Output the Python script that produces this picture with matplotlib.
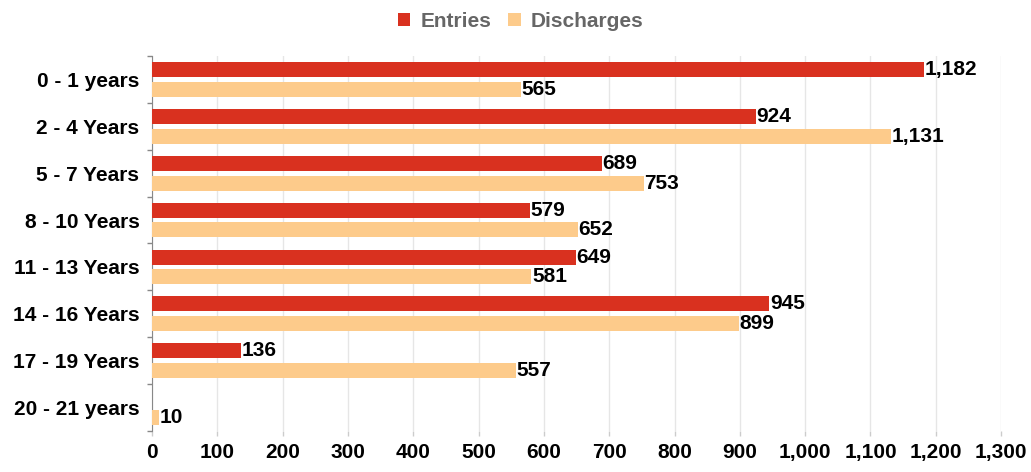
import numpy as np
import matplotlib.pyplot as plt
from matplotlib.ticker import FuncFormatter

# data
categories = ["0 - 1 years", "2 - 4 Years", "5 - 7 Years", "8 - 10 Years",
              "11 - 13 Years", "14 - 16 Years", "17 - 19 Years", "20 - 21 years"]
entries = [1182, 924, 689, 579, 649, 945, 136, np.nan]
discharges = [565, 1131, 753, 652, 581, 899, 557, 10]

red = '#D9311F'
orange = '#FDCB8B'

plt.rcParams['font.family'] = ['Liberation Sans', 'DejaVu Sans']
plt.rcParams['font.weight'] = 'bold'

fig = plt.figure(figsize=(10.31, 4.72), dpi=100)
ax = fig.add_axes([0.1474, 0.0869, 0.8236, 0.7945])

y = np.arange(len(categories))
h = 0.32
off = 0.21
b1 = ax.barh(y - off, entries, height=h, color=red, label='Entries', zorder=3)
b2 = ax.barh(y + off, discharges, height=h, color=orange, label='Discharges', zorder=3)

# value labels at the bar ends
for vals, yy in ((entries, y - off), (discharges, y + off)):
    for v, yi in zip(vals, yy):
        if np.isnan(v):
            continue
        ax.text(v + 1, yi, f"{int(v):,}", va='center', ha='left',
                fontsize=15, fontweight='bold', color='black', zorder=4)

ax.set_xlim(0, 1300)
ax.set_ylim(len(categories) - 0.5, -0.5)
ax.set_xticks(np.arange(0, 1301, 100))
ax.xaxis.set_major_formatter(FuncFormatter(lambda v, p: f"{int(v):,}"))

# category labels centred, ticks on the boundaries
ax.set_yticks(y)
ax.set_yticklabels(categories)
ax.set_yticks(np.arange(-0.5, len(categories), 1), minor=True)
ax.tick_params(axis='y', which='major', length=0, pad=9, labelsize=15)
ax.tick_params(axis='y', which='minor', length=3.5, color='#888888', width=1)
ax.tick_params(axis='x', length=3.5, color='#cccccc', width=1, pad=5, labelsize=15)

ax.grid(axis='x', color='#e6e6e6', linewidth=1, zorder=0)
for s in ('top', 'right', 'bottom'):
    ax.spines[s].set_visible(False)
ax.spines['left'].set_color('#888888')

fig.legend(handles=[b1, b2], labels=['Entries', 'Discharges'], loc='upper center',
           bbox_to_anchor=(0.505, 1.015), ncol=2, frameon=False, fontsize=15,
           handlelength=0.6, handleheight=0.6, handletextpad=0.5, columnspacing=0.8,
           labelcolor='#666666')

fig.savefig('out.png', dpi=100)
